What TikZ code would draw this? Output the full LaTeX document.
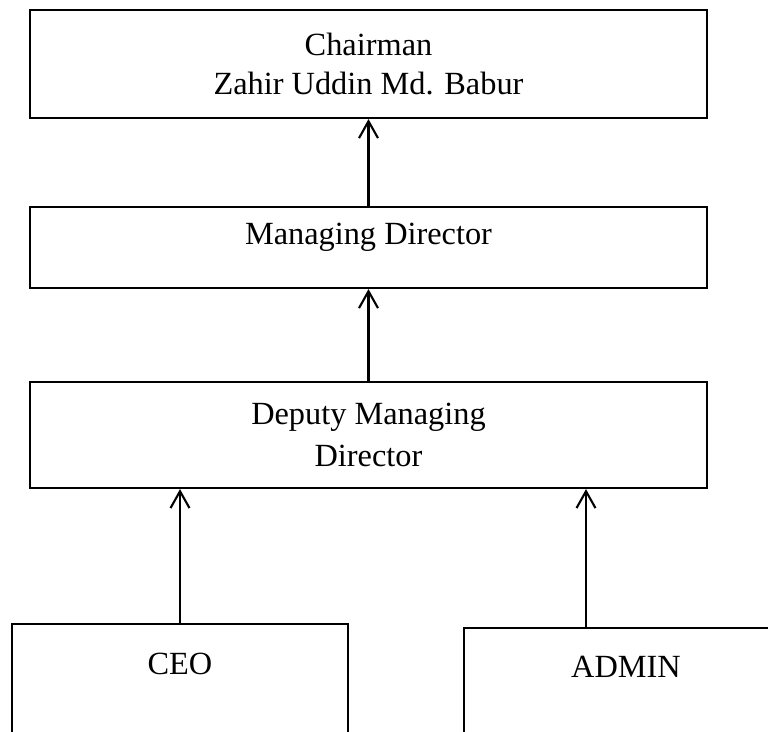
\documentclass[tikz,border=0pt]{standalone}
\usepackage{fontspec}
\setmainfont{Liberation Serif}
\usetikzlibrary{arrows.meta}
\tikzset{
  orgbox/.style={draw, line width=1.5pt, align=center, inner sep=0pt, font=\fontsize{23}{28}\selectfont},
  upline/.style={line width=1.5pt, -{Straight Barb[length=12pt,width=13.5pt,line width=1.5pt]}}
}

\begin{document}
\begin{tikzpicture}[x=0.025cm, y=-0.025cm]
		%%%%% START %%%%%
		\useasboundingbox (0, 0) rectangle (768, 731);
		\clip (0, 0) rectangle (768, 731);
		
		\node[orgbox, minimum width=16.925cm, minimum height=2.7cm] (chair) at (368.5, 64) {Chairman\\Zahir Uddin Md. Babur};
		\node[orgbox, minimum width=16.925cm, minimum height=2.025cm, text depth=19pt] (md) at (368.5, 247.5) {Managing Director};
		\node[orgbox, minimum width=16.925cm, minimum height=2.65cm] (dmd) at (368.5, 435) {Deputy Managing\\[2pt]Director};
		
		\node[orgbox, anchor=north, minimum width=8.4cm, text height=36pt, text depth=3cm] (ceo) at (180, 623) {CEO};
		\node[orgbox, anchor=north, minimum width=8.1cm, text height=35pt, text depth=3cm] (admin) at (626, 627) {ADMIN};
		
		\draw[upline] (md) -- (chair);
		\draw[upline] (dmd) -- (md);
		
		\draw[upline] (ceo.north) -- (ceo.north |- dmd.south);
		\coordinate (adminfoot) at ([xshift=-1cm]admin.north);
		\draw[upline] (adminfoot) -- (adminfoot |- dmd.south);
		
		%%%%% END %%%%%
\end{tikzpicture}
\end{document}
